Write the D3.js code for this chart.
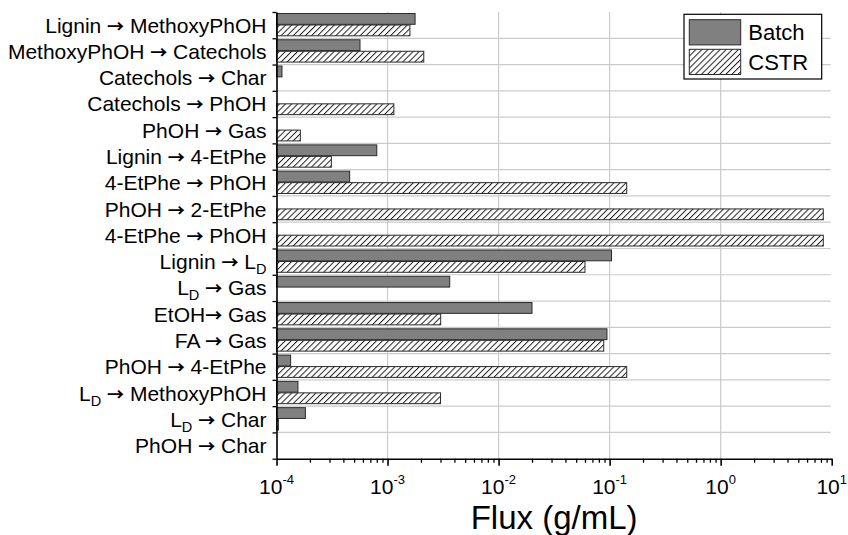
<!DOCTYPE html>
<html>
<head>
<meta charset="utf-8">
<script src="https://cdn.jsdelivr.net/npm/d3@7"></script>
<style>
  html, body { margin: 0; padding: 0; background: #fff; }
  svg { display: block; font-family: "Liberation Sans", Arial, sans-serif; }
  .arrow { font-family: "Noto Sans CJK SC", "DejaVu Sans", sans-serif; font-weight: bold; }
</style>
</head>
<body>
<svg id="chart" width="848" height="535"></svg>
<script>
// Reaction pathways (top to bottom); "L_D" is drawn as L with subscript D
const categories = [
  "Lignin → MethoxyPhOH",
  "MethoxyPhOH → Catechols",
  "Catechols → Char",
  "Catechols → PhOH",
  "PhOH → Gas",
  "Lignin → 4-EtPhe",
  "4-EtPhe → PhOH",
  "PhOH → 2-EtPhe",
  "4-EtPhe → PhOH",
  "Lignin → L_D",
  "L_D → Gas",
  "EtOH→ Gas",
  "FA → Gas",
  "PhOH → 4-EtPhe",
  "L_D → MethoxyPhOH",
  "L_D → Char",
  "PhOH → Char"
];

// Flux values (g/mL); null = no bar
const batchFlux = [1.77e-3, 5.65e-4, 1.12e-4, null, null, 8.0e-4, 4.56e-4, null, null,
                   0.104, 3.63e-3, 0.020, 0.0946, 1.34e-4, 1.56e-4, 1.82e-4, null];
const cstrFlux  = [1.59e-3, 2.12e-3, null, 1.14e-3, 1.64e-4, 3.12e-4, 0.1426, 8.4, 8.4,
                   0.060, null, 3.01e-3, 0.0885, 0.1426, 3.0e-3, 1.04e-4, null];

const seriesNames = ["Batch", "CSTR"];
const decadeTicks = [1e-4, 1e-3, 1e-2, 1e-1, 1, 10];
const decadeExponents = ["-4", "-3", "-2", "-1", "0", "1"];
const axisTitle = "Flux (g/mL)";

const svg = d3.select("#chart");
const plot = { left: 276.5, right: 831.7, top: 12, bottom: 458.7 };

const x = d3.scaleLog().domain([1e-4, 10]).range([plot.left, plot.right]);
const y = d3.scaleBand().domain(d3.range(categories.length)).range([plot.top, plot.bottom]);
const yInner = d3.scaleBand().domain(seriesNames).range([1.5, 23.8]).paddingInner(0.06);
const yEdge = d3.scaleLinear().domain([0, categories.length]).range([plot.top, plot.bottom]);

// hatch pattern for CSTR
const defs = svg.append("defs");
const pat = defs.append("pattern")
  .attr("id", "hatch")
  .attr("patternUnits", "userSpaceOnUse")
  .attr("width", 4.3).attr("height", 10)
  .attr("patternTransform", "rotate(45)");
pat.append("rect").attr("width", 4.3).attr("height", 10).attr("fill", "#fff");
pat.append("line").attr("x1", 0.5).attr("y1", 0).attr("x2", 0.5).attr("y2", 10)
  .attr("stroke", "#222").attr("stroke-width", 1);

const fills = { Batch: "#808080", CSTR: "url(#hatch)" };

// grid
const grid = svg.append("g");
grid.selectAll("line.h").data(d3.range(1, categories.length)).join("line")
  .attr("x1", plot.left).attr("x2", plot.right - 1)
  .attr("y1", d => yEdge(d)).attr("y2", d => yEdge(d))
  .attr("stroke", "#cbcbcb").attr("stroke-width", 1.2);
grid.selectAll("line.v").data(decadeTicks.slice(1, -1)).join("line")
  .attr("x1", d => x(d)).attr("x2", d => x(d))
  .attr("y1", plot.top).attr("y2", plot.bottom)
  .attr("stroke", "#cbcbcb").attr("stroke-width", 1.2);

// bars
const rows = categories.map((c, i) => ({ i, values: [
  { key: "Batch", v: batchFlux[i] }, { key: "CSTR", v: cstrFlux[i] }
].filter(d => d.v != null) }));

const rowG = svg.append("g").selectAll("g").data(rows).join("g")
  .attr("transform", d => `translate(0,${y(d.i)})`);
rowG.selectAll("rect").data(d => d.values).join("rect")
  .attr("x", x(1e-4))
  .attr("y", d => yInner(d.key))
  .attr("width", d => Math.max(0.8, x(d.v) - x(1e-4)))
  .attr("height", yInner.bandwidth())
  .attr("fill", d => fills[d.key])
  .attr("stroke", "#2a2a2a").attr("stroke-width", 1);

// x axis: major and minor ticks
const minorTicks = [];
for (let e = -4; e < 1; e++) for (let m = 2; m <= 9; m++) minorTicks.push(m * Math.pow(10, e));

svg.append("g").attr("transform", `translate(0,${plot.bottom})`)
  .call(d3.axisBottom(x).tickValues(minorTicks).tickSize(4).tickSizeOuter(0).tickFormat(""))
  .call(g => g.select(".domain").remove())
  .call(g => g.selectAll("line").attr("stroke", "#000").attr("stroke-width", 1.3));

const xAxis = svg.append("g").attr("transform", `translate(0,${plot.bottom})`)
  .call(d3.axisBottom(x).tickValues(decadeTicks).tickSize(7).tickSizeOuter(0).tickFormat(""));
xAxis.select(".domain").attr("stroke", "#000").attr("stroke-width", 1.6);
xAxis.selectAll("line").attr("stroke", "#000").attr("stroke-width", 1.6);

// decade tick labels 10^n
const tl = svg.append("g").selectAll("text").data(decadeTicks).join("text")
  .attr("x", d => x(d)).attr("y", 494)
  .attr("text-anchor", "middle").attr("font-size", 21).attr("fill", "#000");
tl.append("tspan").text("10");
tl.append("tspan").attr("font-size", 13).attr("dy", -10).text((d, i) => decadeExponents[i]);

svg.append("text").attr("x", (plot.left + plot.right) / 2).attr("y", 529)
  .attr("text-anchor", "middle").attr("font-size", 33).attr("fill", "#000")
  .text(axisTitle);

// y axis with ticks at category boundaries
const yAxis = svg.append("g").attr("transform", `translate(${plot.left},0)`)
  .call(d3.axisLeft(yEdge).tickValues(d3.range(categories.length + 1)).tickSize(4).tickSizeOuter(0).tickFormat(""));
yAxis.select(".domain").attr("stroke", "#000").attr("stroke-width", 1.6);
yAxis.selectAll("line").attr("stroke", "#000").attr("stroke-width", 1.3);

// category labels: arrow in its own font, L_D with subscript
const labels = svg.append("g").selectAll("text").data(categories).join("text")
  .attr("x", plot.left - 10)
  .attr("y", (d, i) => y(i) + y.bandwidth() / 2 + 7.5)
  .attr("text-anchor", "end").attr("font-size", 21).attr("fill", "#000");
labels.each(function(label) {
  const t = d3.select(this);
  let shift = 0;
  label.split(/(→|_D)/).forEach(p => {
    if (!p) return;
    if (p === "_D") {
      t.append("tspan").attr("font-size", 14.5).attr("dy", 5 - shift).text("D");
      shift = 5;
    } else {
      const s = t.append("tspan").attr("dy", -shift).text(p);
      shift = 0;
      if (p === "→") s.attr("class", "arrow").attr("font-size", 17);
    }
  });
});

// legend
const lg = svg.append("g");
lg.append("rect").attr("x", 684).attr("y", 14.3).attr("width", 137.7).attr("height", 64.7)
  .attr("fill", "#fff").attr("stroke", "#000").attr("stroke-width", 1.2);
const li = lg.selectAll("g").data(seriesNames).join("g")
  .attr("transform", (d, i) => `translate(689.3,${19.7 + i * 29.6})`);
li.append("rect").attr("width", 51.4).attr("height", 25.2)
  .attr("fill", d => fills[d]).attr("stroke", "#2a2a2a").attr("stroke-width", 1);
li.append("text").attr("x", 59).attr("y", 20.5)
  .attr("font-size", 22).attr("fill", "#000").text(d => d);
</script>
</body>
</html>
